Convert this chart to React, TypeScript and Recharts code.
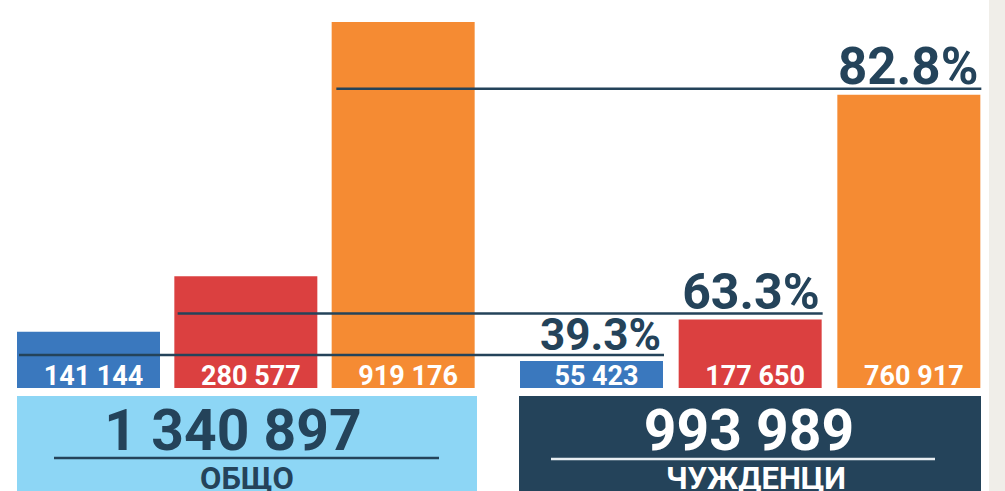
import React from 'react';
import { BarChart, Bar, XAxis, YAxis, Cell, LabelList } from 'recharts';

// Three age/category groups (names not shown in the picture)
const CATEGORIES = ['група 1', 'група 2', 'група 3'];
const TOTAL_VALUES = [141144, 280577, 919176];
const FOREIGN_VALUES = [55423, 177650, 760917];
const GROUP_LABELS = ['ОБЩО', 'ЧУЖДЕНЦИ'];
const GROUP_TOTALS = [1340897, 993989];

const COLORS = ['#3a78be', '#db4040', '#f58b33'];
const NAVY = '#24435a';
const FONT = 'Roboto, "Liberation Sans", sans-serif';

// size of the percent labels, per category
const PCT_SIZES = [44, 50, 51];
// distance from a foreign bar back to the matching total bar
const GROUP_SHIFT = 501;

const data = CATEGORIES.map((name, i) => ({
  name,
  total: TOTAL_VALUES[i],
  foreign: FOREIGN_VALUES[i],
}));

const fmt = (n: number) => String(n).replace(/\B(?=(\d{3})+(?!\d))/g, ' ');

const box = (p: any) => {
  const vb = p.viewBox || {};
  return {
    x: Number(p.x ?? vb.x),
    y: Number(p.y ?? vb.y),
    width: Number(p.width ?? vb.width),
    height: Number(p.height ?? vb.height),
  };
};

const renderValue = (props: any) => {
  const { x, y, width, height } = box(props);
  return (
    <text
      x={x + width / 2 + 5}
      y={y + height - 3}
      textAnchor="middle"
      fill="#ffffff"
      fontFamily={FONT}
      fontWeight={700}
      fontSize={27}
    >
      {fmt(Number(props.value))}
    </text>
  );
};

const renderRatio = (props: any) => {
  const { x, y, width } = box(props);
  const i = props.index ?? FOREIGN_VALUES.indexOf(Number(props.value));
  const pct = ((FOREIGN_VALUES[i] / TOTAL_VALUES[i]) * 100).toFixed(1);
  const lineY = y - 6;
  return (
    <g>
      <line x1={x - GROUP_SHIFT} x2={x + width + 1} y1={lineY} y2={lineY} stroke={NAVY} strokeWidth={2.5} />
      <text
        x={x + width - 2}
        y={lineY - 5}
        textAnchor="end"
        fill={NAVY}
        fontFamily={FONT}
        fontWeight={700}
        fontSize={PCT_SIZES[i]}
      >
        {pct}%
      </text>
    </g>
  );
};

export default function App() {
  return (
    <div style={{ position: 'absolute', left: 0, top: 0, width: 1005, height: 491, overflow: 'hidden', background: '#ffffff' }}>
      <div style={{ position: 'absolute', left: 989, top: 0, width: 16, height: 491, background: '#f0eee9' }} />
      <div style={{ position: 'absolute', left: 0, top: 0 }}>
        <BarChart
          width={1005}
          height={491}
          data={data}
          barSize={143}
          margin={{ top: 22, right: 17, bottom: 103, left: 10 }}
        >
          <XAxis xAxisId="total" dataKey="name" hide padding={{ left: 0, right: 506 }} />
          <XAxis xAxisId="foreign" dataKey="name" hide padding={{ left: 502, right: 0 }} />
          <YAxis yAxisId="total" hide domain={[0, 919176]} />
          <YAxis yAxisId="foreign" hide domain={[0, 950000]} />
          <Bar xAxisId="total" yAxisId="total" dataKey="total" isAnimationActive={false}>
            {data.map((_, i) => (
              <Cell key={`t-${i}`} fill={COLORS[i]} />
            ))}
            <LabelList dataKey="total" content={renderValue} />
          </Bar>
          <Bar xAxisId="foreign" yAxisId="foreign" dataKey="foreign" minPointSize={27} isAnimationActive={false}>
            {data.map((_, i) => (
              <Cell key={`f-${i}`} fill={COLORS[i]} />
            ))}
            <LabelList dataKey="foreign" content={renderValue} />
            <LabelList dataKey="foreign" content={renderRatio} />
          </Bar>
        </BarChart>
      </div>
      {/* group totals */}
      <svg width={1005} height={491} style={{ position: 'absolute', left: 0, top: 0 }}>
        <rect x={17} y={396} width={460} height={95} fill="#8dd6f5" />
        <text x={233} y={450} textAnchor="middle" fill={NAVY} fontFamily={FONT} fontWeight={700} fontSize={57}>
          {fmt(GROUP_TOTALS[0])}
        </text>
        <line x1={54} x2={439} y1={458} y2={458} stroke={NAVY} strokeWidth={2.5} />
        <text x={247} y={489} textAnchor="middle" fill={NAVY} fontFamily={FONT} fontWeight={700} fontSize={31}>
          {GROUP_LABELS[0]}
        </text>

        <rect x={519} y={396} width={462} height={95} fill={NAVY} />
        <text x={749} y={450} textAnchor="middle" fill="#ffffff" fontFamily={FONT} fontWeight={700} fontSize={57}>
          {fmt(GROUP_TOTALS[1])}
        </text>
        <line x1={551} x2={935} y1={459} y2={459} stroke="#e8eef2" strokeWidth={2.5} />
        <text x={756} y={489} textAnchor="middle" fill="#ffffff" fontFamily={FONT} fontWeight={700} fontSize={31}>
          {GROUP_LABELS[1]}
        </text>
      </svg>
    </div>
  );
}
